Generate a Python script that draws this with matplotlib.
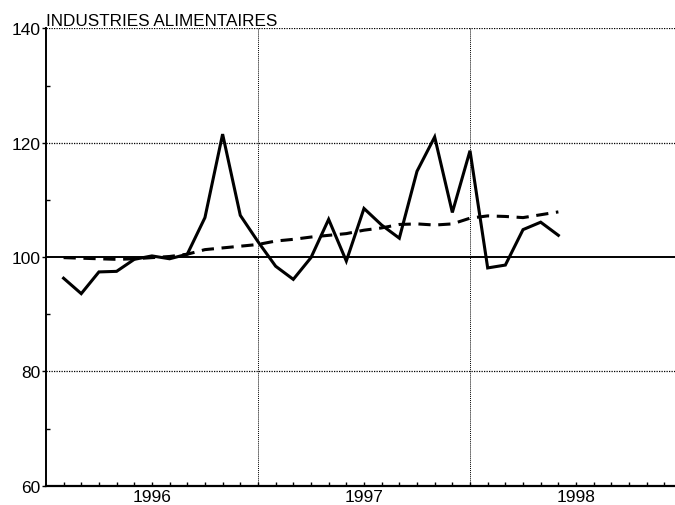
import numpy as np
import matplotlib
matplotlib.use('Agg')
import matplotlib.pyplot as plt

# --- Monthly index values, Jan 1996 onwards ---
months = np.arange(29)
production = [96.3, 93.6, 97.4, 97.5, 99.6, 100.2, 99.7, 100.5, 106.9, 121.5,
              107.3, 102.7, 98.4, 96.1, 99.9, 106.6, 99.3, 108.5, 105.6, 103.3,
              115.0, 121.0, 107.8, 118.6, 98.1, 98.6, 104.8, 106.1, 103.8]
trend = [99.9, 99.8, 99.7, 99.6, 99.7, 99.9, 100.1, 100.5, 101.3, 101.6,
         101.9, 102.2, 102.8, 103.1, 103.5, 103.8, 104.1, 104.7, 105.1, 105.7,
         105.8, 105.6, 105.8, 106.8, 107.2, 107.1, 106.9, 107.4, 107.9]

years = ['1996', '1997', '1998']
year_label_pos = [5, 17, 29]
year_breaks = [11, 23]
title = 'INDUSTRIES ALIMENTAIRES'

plt.rcParams['font.family'] = ['Liberation Sans', 'DejaVu Sans']

fig = plt.figure(figsize=(6.75, 5.06), dpi=100)
ax = fig.add_axes([0.068, 0.038, 0.932, 0.904])

# grid / reference lines
for yv in [80, 120, 140]:
    ax.axhline(yv, color='black', linestyle=(0, (1, 1)), linewidth=0.9, zorder=1)
for xv in year_breaks:
    ax.axvline(xv, color='black', linestyle=(0, (1, 1)), linewidth=0.7, zorder=1)
ax.axhline(100, color='black', linewidth=1.4, zorder=2)

ax.plot(months, production, color='black', linewidth=2.2, zorder=4,
        solid_joinstyle='miter')
ax.plot(months, trend, color='black', linewidth=2.2, linestyle=(0, (4, 2.5)),
        zorder=3)

ax.set_xlim(-1, 34.6)
ax.set_ylim(60, 140)

for side in ['top', 'right']:
    ax.spines[side].set_visible(False)
ax.spines['left'].set_linewidth(1.4)
ax.spines['bottom'].set_linewidth(1.6)

ax.set_yticks([60, 80, 100, 120, 140])
ax.set_yticks([70, 90, 110, 130], minor=True)
ax.tick_params(axis='y', which='major', direction='out', length=3, width=1,
               labelsize=12.5, pad=1)
ax.tick_params(axis='y', which='minor', direction='in', length=3, width=1)

ax.set_xticks(year_label_pos)
ax.set_xticklabels(years)
ax.set_xticks(np.arange(0, 35), minor=True)
ax.tick_params(axis='x', which='both', direction='in', length=3, width=1,
               labelsize=12.5, pad=2)

fig.text(0.068, 0.943, title, fontsize=12.3, ha='left', va='bottom')

plt.savefig('out.png', dpi=100)
